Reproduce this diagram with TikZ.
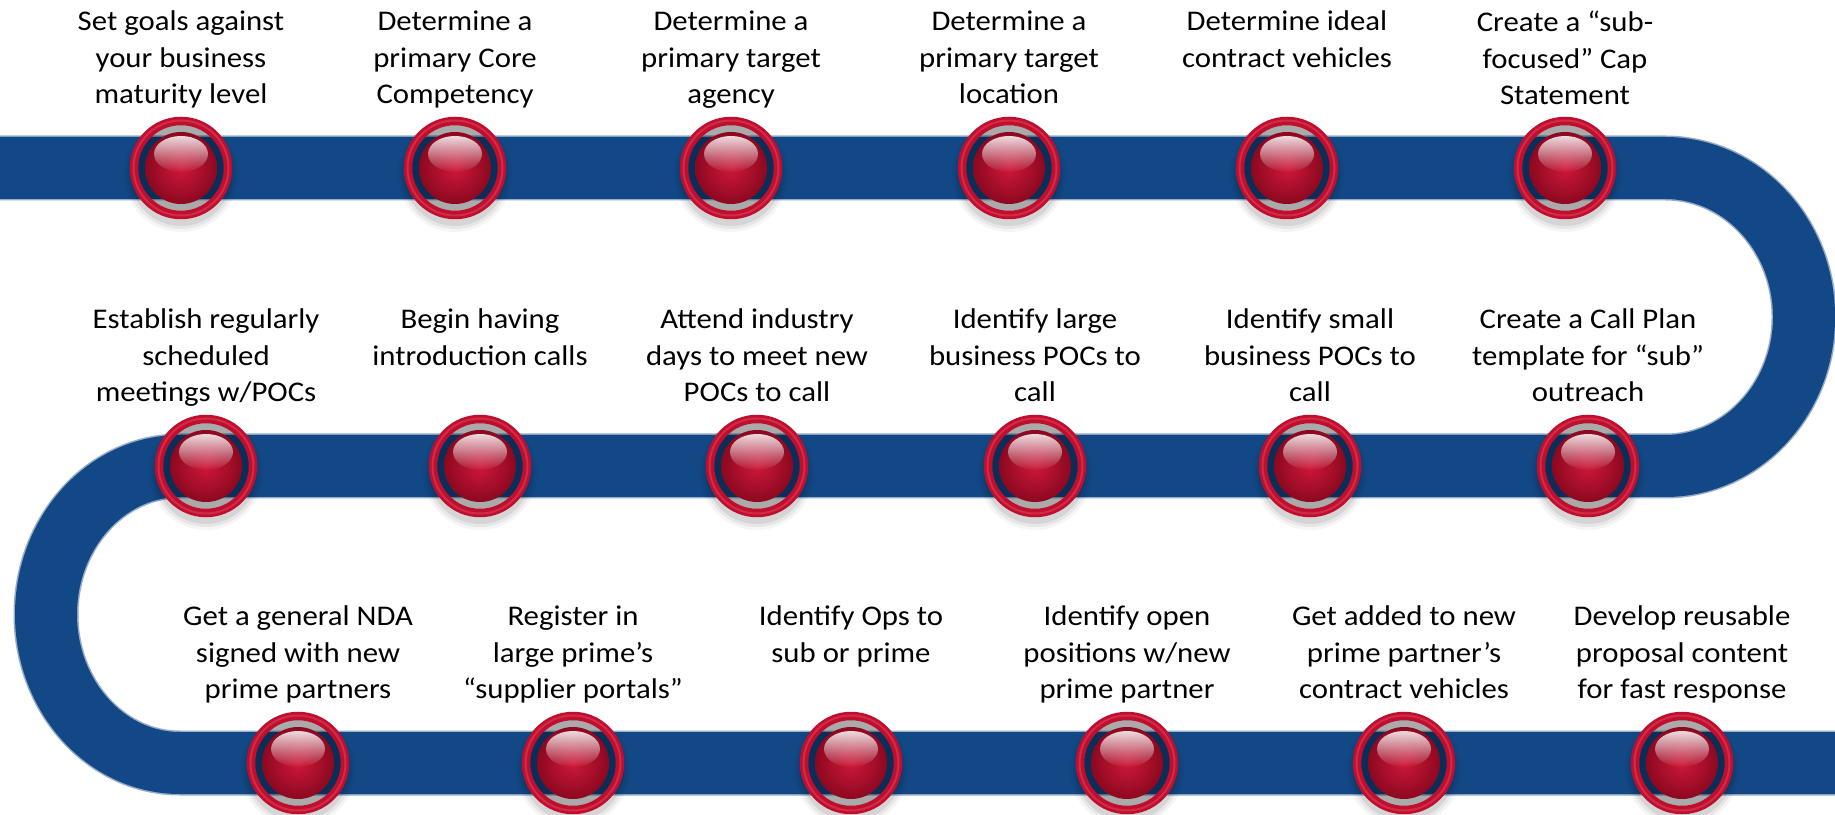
\documentclass[tikz,border=0pt]{standalone}
\usepackage{fontspec}
\setmainfont{Carlito}[FakeStretch=1.08]
\usetikzlibrary{fadings}

\definecolor{roadblue}{RGB}{19,72,134}
\definecolor{roadedge}{RGB}{150,172,200}
\definecolor{ringred}{RGB}{190,16,46}
\definecolor{ringlight}{RGB}{226,60,90}
\definecolor{balldark}{RGB}{140,8,32}
\definecolor{balllight}{RGB}{206,24,56}

\tikzset{
  road/.style={line width=62pt, roadblue},
  stepring/.style={circle, minimum size=102pt, inner sep=0pt},
  steptext/.style={anchor=north, align=center, inner sep=0pt,
    font=\fontsize{28.5}{36.5}\selectfont, execute at begin node=\rule{0pt}{22pt}},
}

\begin{document}
\begin{tikzpicture}[x=1pt, y=1pt]
  \useasboundingbox (0,0) rectangle (1835,814);

  % Road
  \draw[road, line width=65pt, roadedge] (0,646) -- (1665,646)
    arc[start angle=90, end angle=-90, x radius=139, y radius=149] -- (180,348)
    arc[start angle=90, end angle=270, x radius=134, y radius=148.5] -- (1835,51);
  \draw[road] (0,646) -- (1665,646)
    arc[start angle=90, end angle=-90, x radius=139, y radius=149] -- (180,348)
    arc[start angle=90, end angle=270, x radius=134, y radius=148.5] -- (1835,51);

  % Step buttons
  \foreach \n/\x/\y in {1/181/646, 2/455/646, 3/731/646, 4/1009/646, 5/1287/646, 6/1565/646,
                        7/206/348, 8/480/348, 9/757/348, 10/1035/348, 11/1310/348, 12/1588/348,
                        13/298/51, 14/573/51, 15/851/51, 16/1127/51, 17/1404/51, 18/1682/51} {
    \node[stepring] (s\n) at (\x,\y) {};
    \begin{scope}[shift={(s\n.center)}]
      \foreach \r/\o in {57/0.04, 54/0.06, 51/0.08}
        \fill[black, opacity=\o] (0,-7) circle (\r);
      \fill[black, opacity=0.2] (0,0) circle (44);
      \draw[ringred, line width=8.5pt] (0,0) circle (47);
      \draw[ringlight, line width=2pt, opacity=0.6] (0,0) circle (47.5);
      \shade[inner color=balllight, outer color=balldark] (0,0) circle (36);
      \fill[white, path fading=south, fill opacity=0.85] (0,14) ellipse (27 and 18);
    \end{scope}
  }

  % Step labels
  \foreach \n/\txt in {
      1/{Set goals against\\your business\\maturity level},
      2/{Determine a\\primary Core\\Competency},
      3/{Determine a\\primary target\\agency},
      4/{Determine a\\primary target\\location},
      5/{Determine ideal\\contract vehicles},
      6/{Create a “sub-\\focused” Cap\\Statement},
      7/{Establish regularly\\scheduled\\meetings w/POCs},
      8/{Begin having\\introduction calls},
      9/{Attend industry\\days to meet new\\POCs to call},
      10/{Identify large\\business POCs to\\call},
      11/{Identify small\\business POCs to\\call},
      12/{Create a Call Plan\\template for “sub”\\outreach},
      13/{Get a general NDA\\signed with new\\prime partners},
      14/{Register in\\large prime’s\\“supplier portals”},
      15/{Identify Ops to\\sub or prime},
      16/{Identify open\\positions w/new\\prime partner},
      17/{Get added to new\\prime partner’s\\contract vehicles},
      18/{Develop reusable\\proposal content\\for fast response}}
    \node[steptext] (t\n) at ([yshift=157pt]s\n.center) {\txt};
\end{tikzpicture}
\end{document}
